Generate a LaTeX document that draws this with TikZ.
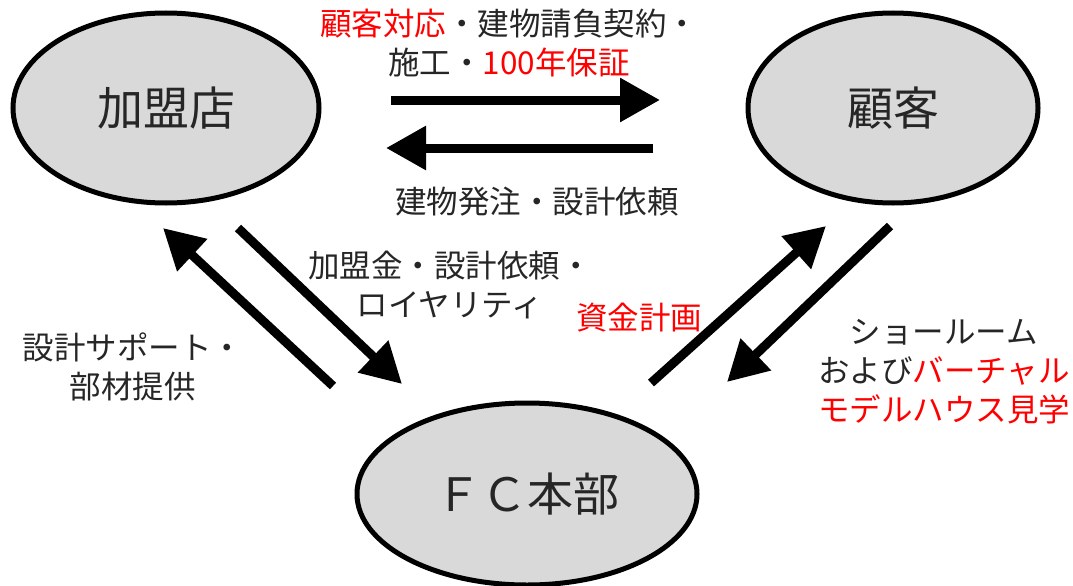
\documentclass[tikz,border=0pt]{standalone}
\usepackage{fontspec}
\setmainfont{Noto Sans CJK JP}
\usetikzlibrary{arrows.meta,shapes.geometric}
\definecolor{txt}{HTML}{262626}
\definecolor{fillg}{HTML}{D9D9D9}
\definecolor{redt}{HTML}{FF0000}
\tikzset{
  party/.style={ellipse, draw=black, line width=5pt, fill=fillg, text=txt, font=\fontsize{46}{52}\selectfont},
  flow/.style={line width=9pt, -{Triangle[length=40pt,width=42pt]}},
  lab/.style={text=txt, font=\fontsize{31.5}{39}\selectfont, align=center, inner sep=0pt},
}
\begin{document}
\begin{tikzpicture}[x=1pt,y=-1pt]
\useasboundingbox (0,0) rectangle (1073,586);
\node[party, minimum width=306pt, minimum height=190pt] (kamei) at (166,108) {加盟店};
\node[party, minimum width=290pt, minimum height=190pt] (kokyaku) at (893,108) {顧客};
\node[party, minimum width=340pt, minimum height=182pt] (fc) at (527,494) {ＦＣ本部};

% horizontal arrows
\coordinate (h1s) at (391,100);
\coordinate (h1e) at (660,100);
\coordinate (h2s) at (653,148);
\coordinate (h2e) at (386,148);
\draw[flow] (h1s) -- (h1e);
\draw[flow] (h2s) -- (h2e);

% left diagonal arrows
\coordinate (d1s) at (333,386);
\coordinate (d1e) at (163,228);
\coordinate (d2s) at (238,228);
\coordinate (d2e) at (402,384);
\draw[flow] (d1s) -- (d1e);
\draw[flow] (d2s) -- (d2e);

% right diagonal arrows
\coordinate (d3s) at (651,383);
\coordinate (d3e) at (826,226);
\coordinate (d4s) at (890,226);
\coordinate (d4e) at (727,382);
\draw[flow] (d3s) -- (d3e);
\draw[flow] (d4s) -- (d4e);

% labels
\node[lab] (l1) at (509,43) {\textcolor{redt}{顧客対応}・建物請負契約・\\施工・\textcolor{redt}{100年保証}};
\node[lab] (l2) at (537,202) {建物発注・設計依頼};
\node[lab] (l3) at (450,285) {加盟金・設計依頼・\\ロイヤリティ};
\node[lab] (l4) at (133,367) {設計サポート・\\部材提供};
\node[lab, text=redt] (l5) at (639,318) {資金計画};
\node[lab] (l6) at (944,372) {ショールーム\\および\textcolor{redt}{バーチャル}\\\textcolor{redt}{モデルハウス見学}};
\end{tikzpicture}
\end{document}
